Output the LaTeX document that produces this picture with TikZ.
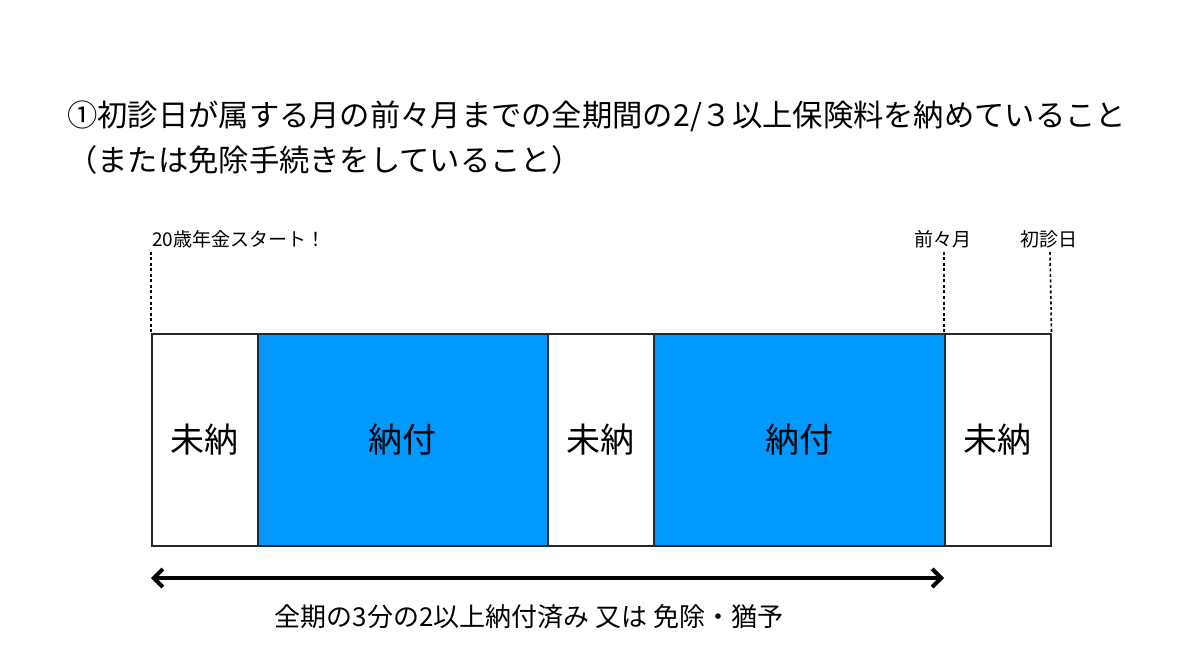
\documentclass[tikz,border=0pt]{standalone}
\usepackage{fontspec}
\setmainfont{Noto Sans CJK JP}
\usetikzlibrary{arrows.meta}
\definecolor{paid}{RGB}{0,153,255}
\definecolor{edge}{RGB}{40,40,40}
\tikzset{
  seg/.style={draw=edge, line width=1.5pt, minimum height=212pt, inner sep=0pt, anchor=north west, font=\fontsize{34}{40}\selectfont},
  unpaid/.style={seg, fill=white},
  paidbox/.style={seg, fill=paid},
  small/.style={font=\fontsize{19}{23}\selectfont, inner sep=0pt},
  guide/.style={line width=1.6pt, dash pattern=on 3pt off 2.5pt},
  big/.style={font=\fontsize{30.3}{36}\selectfont, inner sep=0pt, anchor=base west},
}
\begin{document}
\begin{tikzpicture}[x=1pt,y=-1pt]
\useasboundingbox (0,0) rectangle (1200,671);
\node[big] (t1) at (67,127) {①初診日が属する月の前々月までの全期間の2/３以上保険料を納めていること};
\node[big] (t2) at (67,172) {（または免除手続きをしていること）};

\node[unpaid, minimum width=106pt] (b1) at (151,333) {未納};
\node[paidbox, minimum width=290pt] (b2) at (257,333) {納付};
\node[unpaid, minimum width=106pt] (b3) at (547,333) {未納};
\node[paidbox, minimum width=291pt] (b4) at (653,333) {納付};
\node[unpaid, minimum width=106pt] (b5) at (944,333) {未納};

\node[small, anchor=base west] (l1) at (152,247) {20歳年金スタート！};
\node[small, anchor=base] (l2) at (943,247) {前々月};
\node[small, anchor=base] (l3) at (1049,247) {初診日};

\coordinate (g1) at (151,252);
\coordinate (g2) at (944,252);
\coordinate (g3) at (1050,252);
\draw[guide] (g1) -- (b1.north west);
\draw[guide] (g2) -- (b5.north west);
\draw[guide] (g3) -- (b5.north east);

\coordinate (a1) at (151,578);
\coordinate (a2) at (944,578);
\draw[line width=4pt, {Straight Barb[length=9pt,width=18pt]}-{Straight Barb[length=9pt,width=18pt]}] (a1) -- (a2);

\node[font=\fontsize{26}{30}\selectfont, inner sep=0pt, anchor=base] (cap) at (529,626) {全期の3分の2以上納付済み 又は 免除・猶予};
\end{tikzpicture}
\end{document}
